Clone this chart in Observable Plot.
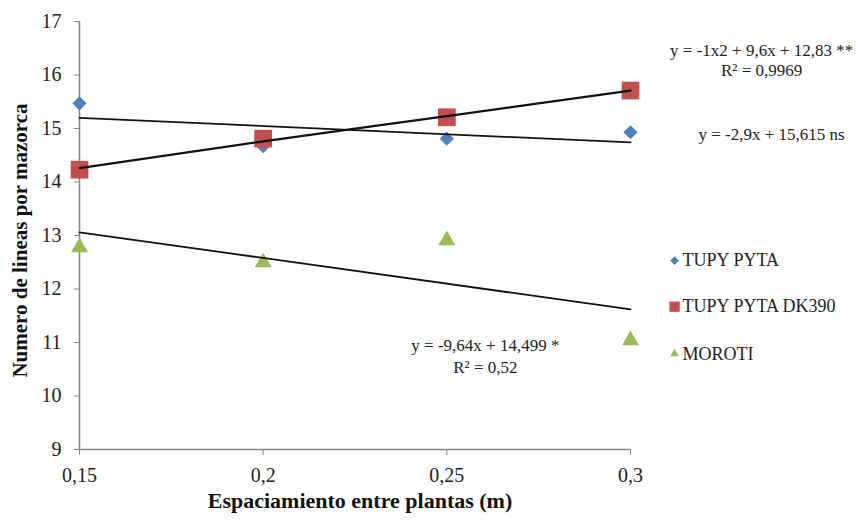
<!DOCTYPE html>
<html>
<head>
<meta charset="utf-8">
<script src="https://cdn.jsdelivr.net/npm/d3@7"></script>
<script src="https://cdn.jsdelivr.net/npm/@observablehq/plot@0.6"></script>
<style>
  html, body { margin: 0; padding: 0; background: #fff; }
  #chart { width: 859px; height: 522px; }
  #chart svg, #chart svg text, #chart svg g { font-family: "Liberation Serif", "DejaVu Serif", serif !important; }
</style>
</head>
<body>
<div id="chart"></div>
<script>
// ---- data ----
const spacing = [0.15, 0.2, 0.25, 0.3];
const xTicks = [0.15, 0.2, 0.25, 0.3];
const yTicks = [9, 10, 11, 12, 13, 14, 15, 16, 17];
const seriesNames = ["TUPY PYTA", "TUPY PYTA DK390", "MOROTI"];
const tupyPyta = [15.47, 14.67, 14.81, 14.93];
const tupyPytaDK390 = [14.23, 14.81, 15.21, 15.71];
const moroti = [12.78, 12.5, 12.91, 11.04];
// trend lines (as drawn)
const trendTupyX = [0.15, 0.3];
const trendTupyY = [15.2, 14.74];
const trendDKX = [0.15, 0.2, 0.25, 0.3];
const trendDKY = [14.26, 14.76, 15.23, 15.71];
const trendMorotiX = [0.15, 0.3];
const trendMorotiY = [13.06, 11.62];
const eqDK = ["y = -1x2 + 9,6x + 12,83 **", "R² = 0,9969"];
const eqTupy = ["y = -2,9x + 15,615 ns"];
const eqMoroti = ["y = -9,64x + 14,499 *", "R² = 0,52"];
const xLabel = "Espaciamiento entre plantas (m)";
const yLabel = "Numero de lineas por mazorca";

const colors = ["#4F81BD", "#C0504D", "#9BBB59"];
const symbols = ["diamond2", "square", "triangle"];
const radii = [6.4, 10, 6.3];
const legendRadii = [4, 5.8, 3.2];

const seriesValues = [tupyPyta, tupyPytaDK390, moroti];
const points = seriesNames.flatMap((name, i) =>
  spacing.map((x, j) => ({series: name, idx: i, x, y: seriesValues[i][j]})));
const toPts = (xs, ys) => xs.map((x, i) => ({x, y: ys[i]}));

const gray = "#868686";
const fmt = d => String(d).replace(".", ",");

const eqText = (lines, x, y0, step) => lines.map((t, i) => ({t, x, y: y0 - i * step}));

const legend = seriesNames.map((name, i) => ({name, i, y: [12.53, 11.67, 10.79][i]}));

const chart = Plot.plot({
  width: 859,
  height: 522,
  marginLeft: 79,
  marginRight: 229,
  marginTop: 21,
  marginBottom: 73,
  style: {fontFamily: "Liberation Serif, serif", background: "#fff", color: "#222"},
  x: {domain: [0.15, 0.3], axis: null},
  y: {domain: [9, 17], axis: null},
  marks: [
    Plot.ruleX([0.15], {y1: 9, y2: 17, stroke: gray, strokeWidth: 1.6}),
    Plot.ruleY([9], {x1: 0.15, x2: 0.3, stroke: gray, strokeWidth: 1.6}),
    Plot.axisY({ticks: yTicks, tickSize: 5, tickPadding: 13, fontSize: 20, stroke: gray, fill: "#222", label: null, tickFormat: fmt}),
    Plot.axisX({ticks: xTicks, tickSize: 6, tickPadding: 12, fontSize: 20, stroke: gray, fill: "#222", label: null, tickFormat: fmt}),
    // markers
    ...seriesNames.map((name, i) => Plot.dot(points.filter(d => d.idx === i), {
      x: "x", y: "y", symbol: symbols[i], r: radii[i], fill: colors[i], stroke: "none"
    })),
    // trend lines
    Plot.line(toPts(trendTupyX, trendTupyY), {x: "x", y: "y", stroke: "#111", strokeWidth: 1.8}),
    Plot.line(toPts(trendDKX, trendDKY), {x: "x", y: "y", stroke: "#111", strokeWidth: 2.2, curve: "natural"}),
    Plot.line(toPts(trendMorotiX, trendMorotiY), {x: "x", y: "y", stroke: "#111", strokeWidth: 1.8}),
    // equations
    Plot.text(eqText(eqDK, 0.3357, 16.46, 0.374), {x: "x", y: "y", text: "t", fontSize: 17, fill: "#222"}),
    Plot.text(eqText(eqTupy, 0.3384, 14.89, 0), {x: "x", y: "y", text: "t", fontSize: 17, fill: "#222"}),
    Plot.text(eqText(eqMoroti, 0.2605, 10.94, 0.41), {x: "x", y: "y", text: "t", fontSize: 17, fill: "#222"}),
    // legend
    ...legend.map(d => Plot.dot([d], {x: 0.312, y: "y", symbol: symbols[d.i], r: legendRadii[d.i], fill: colors[d.i], stroke: "none"})),
    Plot.text(legend, {x: 0.312, y: "y", text: "name", dx: 8, textAnchor: "start", fontSize: 18, fill: "#222"}),
    // axis titles
    Plot.text([xLabel], {frameAnchor: "bottom", dx: 5, dy: 58, fontSize: 22, fontWeight: "bold", fill: "#111"}),
    Plot.text([yLabel], {frameAnchor: "left", textAnchor: "middle", dx: -59, dy: 5, rotate: -90, fontSize: 21, fontWeight: "bold", fill: "#111"})
  ]
});
document.getElementById("chart").appendChild(chart);
</script>
</body>
</html>
